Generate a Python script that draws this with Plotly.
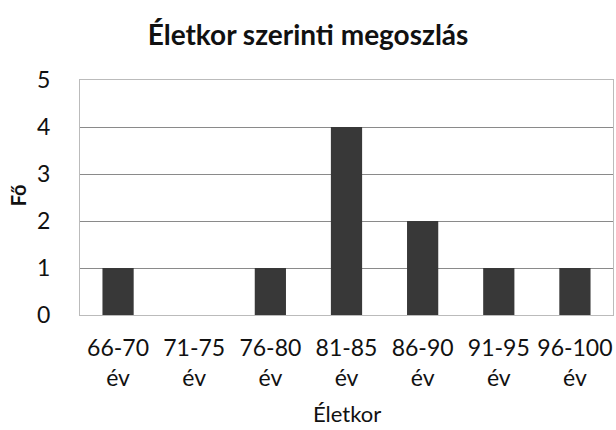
import plotly.graph_objects as go

categories = ["66-70<br>év", "71-75<br>év", "76-80<br>év", "81-85<br>év", "86-90<br>év", "91-95<br>év", "96-100<br>év"]
values = [1, 0, 1, 4, 2, 1, 1]
y_ticks = [0, 1, 2, 3, 4, 5]

FONT = "Lato, Open Sans, sans-serif"

fig = go.Figure(go.Bar(x=categories, y=values, marker=dict(color="#383838", line=dict(width=0))))

fig.update_layout(
    width=616, height=430,
    margin=dict(l=80, r=3, t=80, b=115),
    paper_bgcolor="white", plot_bgcolor="white",
    bargap=0.59,
    showlegend=False,
    font=dict(family=FONT, color="#111", size=18),
    title=dict(text="<b>Életkor szerinti megoszlás</b>", x=0.5, xanchor="center", xref="container",
               y=0.918, yref="container", yanchor="middle",
               font=dict(size=28, family=FONT, color="#111")),
    xaxis=dict(automargin=False, tickfont=dict(size=23), showgrid=False, showline=True,
               linecolor="#bbbbbb", mirror=True, ticks="outside", ticklen=12,
               tickcolor="rgba(0,0,0,0)", zeroline=False),
    yaxis=dict(automargin=False, range=[0, 5], tickvals=y_ticks, tickfont=dict(size=23),
               showgrid=True, gridcolor="#8a8a8a", gridwidth=1,
               ticks="outside", ticklen=24, tickcolor="rgba(0,0,0,0)",
               showline=True, linecolor="#bbbbbb", mirror=True, zeroline=False),
    annotations=[
        dict(text="Életkor", xref="paper", yref="paper", x=0.5, y=-0.42, xanchor="center",
             yanchor="middle", showarrow=False, font=dict(size=22, family=FONT, color="#111")),
        dict(text="<b>Fő</b>", xref="paper", yref="paper", x=-0.116, y=0.51, xanchor="center",
             yanchor="middle", textangle=-90, showarrow=False, font=dict(size=20, family=FONT, color="#111")),
    ],
)

fig.write_html("out.html", config={"displayModeBar": False},
               post_script="document.body.style.margin='0';")
